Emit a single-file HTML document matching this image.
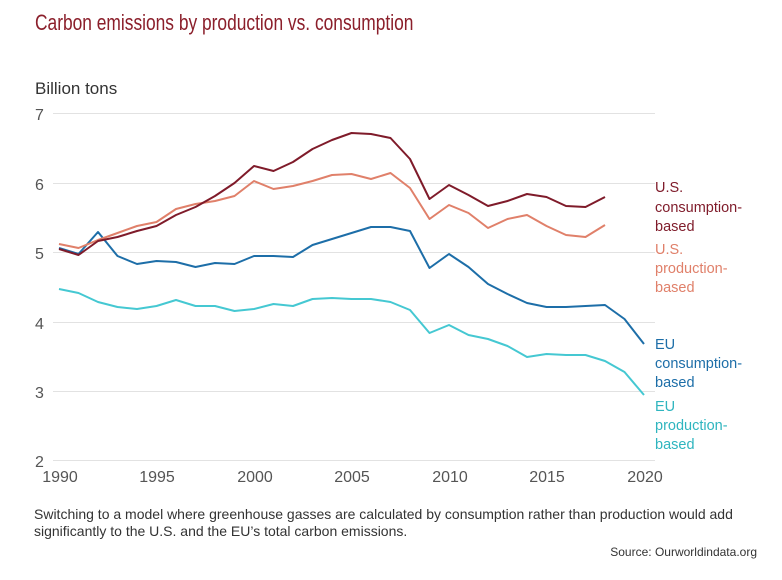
<!DOCTYPE html>
<html><head><meta charset="utf-8"><style>
body{margin:0;background:#fff;}
svg{display:block;font-family:"Liberation Sans",sans-serif;}
</style></head><body>
<svg width="782" height="580" viewBox="0 0 782 580" xmlns="http://www.w3.org/2000/svg">
<text x="44.3" y="30" font-size="22" fill="#8b1f2b" transform="scale(0.79,1)">Carbon emissions by production vs. consumption</text>
<text x="35" y="94" font-size="17" fill="#333">Billion tons</text>
<g stroke="#e2e2e2" stroke-width="1">
<line x1="53" x2="655" y1="113.5" y2="113.5"/>
<line x1="53" x2="655" y1="183.5" y2="183.5"/>
<line x1="53" x2="655" y1="252.5" y2="252.5"/>
<line x1="53" x2="655" y1="322.5" y2="322.5"/>
<line x1="53" x2="655" y1="391.5" y2="391.5"/>
<line x1="53" x2="655" y1="460.5" y2="460.5"/>
</g>
<g font-size="16" fill="#555">
<text x="35" y="120">7</text><text x="35" y="190">6</text><text x="35" y="259">5</text>
<text x="35" y="329">4</text><text x="35" y="398">3</text><text x="35" y="467">2</text>
</g>
<g font-size="16" fill="#555" text-anchor="middle">
<text x="60" y="482">1990</text><text x="157" y="482">1995</text><text x="255" y="482">2000</text>
<text x="352" y="482">2005</text><text x="450" y="482">2010</text><text x="547" y="482">2015</text><text x="645" y="482">2020</text>
</g>
<g fill="none" stroke-width="2" stroke-linejoin="round">
<polyline id="ep" stroke="#45c8d2" points=""/>
<polyline id="ec" stroke="#1d6ea8" points=""/>
<polyline id="up" stroke="#e0806a" points=""/>
<polyline id="uc" stroke="#7f1b2a" points=""/>
</g>
<g font-size="14.5">
<text fill="#7f1b2a"><tspan x="655" y="192">U.S.</tspan><tspan x="655" y="212">consumption-</tspan><tspan x="655" y="231">based</tspan></text>
<text fill="#e0806a"><tspan x="655" y="254">U.S.</tspan><tspan x="655" y="273">production-</tspan><tspan x="655" y="292">based</tspan></text>
<text fill="#1d6ea8"><tspan x="655" y="349">EU</tspan><tspan x="655" y="368">consumption-</tspan><tspan x="655" y="387">based</tspan></text>
<text fill="#2fb5bf"><tspan x="655" y="411">EU</tspan><tspan x="655" y="430">production-</tspan><tspan x="655" y="449">based</tspan></text>
</g>
<g font-size="14" fill="#333">
<text x="34" y="519">Switching to a model where greenhouse gasses are calculated by consumption rather than production would add</text>
<text x="34" y="536">significantly to the U.S. and the EU’s total carbon emissions.</text>
<text x="757" y="556" text-anchor="end" font-size="12">Source: Ourworldindata.org</text>
</g>
</svg>
<script>
var d={
uc:[249,255,241,237,231,226,215,207,196,183,166,171,162,149,140,133,134,138,159,199,185,195,206,201,194,197,206,207,197],
up:[244,248,240,233,226,222,209,204,201,196,181,189,186,181,175,174,179,173,188,219,205,213,228,219,215,226,235,237,225],
ec:[248,254,232,256,264,261,262,267,263,264,256,256,257,245,239,233,227,227,231,268,254,267,284,294,303,307,307,306,305,319,344],
ep:[289,293,302,307,309,306,300,306,306,311,309,304,306,299,298,299,299,302,310,333,325,335,339,346,357,354,355,355,361,372,395]};
for(var k in d){document.getElementById(k).setAttribute('points',d[k].map(function(v,i){return (59+19.5*i).toFixed(1)+','+v}).join(' '));}
</script>
</body></html>
